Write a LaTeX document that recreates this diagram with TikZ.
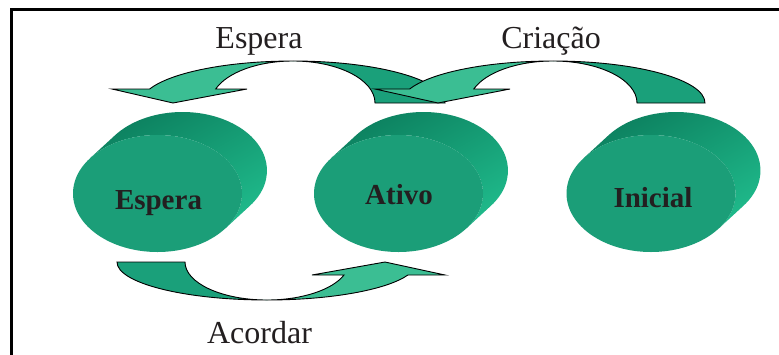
\documentclass[tikz,border=0pt]{standalone}
\usepackage{fontspec}
\setmainfont{Liberation Serif}
\definecolor{faceCol}{HTML}{1B9E78}
\definecolor{sideDark}{HTML}{0C7F5E}
\definecolor{sideLight}{HTML}{1FBA8B}
\definecolor{arrowLight}{HTML}{3BBE93}
\definecolor{arrowDark}{HTML}{1AA07A}
\definecolor{txt}{HTML}{231F20}
\tikzset{
  arrlight/.style={fill=arrowLight, draw=black, line width=0.9pt, line join=miter},
  arrdark/.style={fill=arrowDark, draw=black, line width=0.9pt, line join=miter},
  lbl/.style={font=\fontsize{32}{32}\selectfont, text=txt, anchor=base, inner sep=0pt},
  blbl/.style={font=\fontsize{29}{29}\selectfont\bfseries, text=txt, anchor=base, inner sep=0pt},
  frame/.style={draw=black, line width=2.4pt},
  disc/.pic={
    \shade[top color=sideDark, bottom color=sideLight, shading angle=30]
      (-67.5,-35.2) -- ++(25,-23)
      arc[start angle=217, end angle=397, x radius=84.5, y radius=58.5]
      -- ++(-25,23)
      arc[start angle=37, end angle=-143, x radius=84.5, y radius=58.5] -- cycle;
    \fill[faceCol] (0,0) ellipse[x radius=84.5, y radius=58.5];
  }
}
\begin{document}
\begin{tikzpicture}[x=1pt,y=-1pt]
\useasboundingbox (0,0) rectangle (779,354);
\fill[white] (0,0) rectangle (779,354);
% frame
\draw[frame] (11.5,356) -- (11.5,9.5) -- (781,9.5);

% discs
\pic at (157.5,193.5) {disc};
\pic at (398.5,193.5) {disc};
\pic at (651,193.5) {disc};
\node[blbl] (espera) at (158.5,209) {Espera};
\node[blbl] (ativo) at (399,204) {Ativo};
\node[blbl] (inicial) at (653,207) {Inicial};

% Espera arrow (Ativo -> Espera)
\coordinate (eTop) at (293,61);
\draw[arrdark] (eTop) arc[start angle=270, end angle=360, x radius=152, y radius=42]
  -- (375,103) arc[start angle=360, end angle=270, x radius=82, y radius=42] -- cycle;
\draw[arrlight] (149.7,89) arc[start angle=199.47, end angle=270, x radius=152, y radius=42]
  arc[start angle=270, end angle=199.47, x radius=82, y radius=42]
  -- (247,89) -- (173,103) -- (112,89) -- cycle;

% Criacao arrow (Inicial -> Ativo)
\coordinate (cTop) at (553,61);
\draw[arrdark] (cTop) arc[start angle=270, end angle=360, x radius=152, y radius=42]
  -- (637,103) arc[start angle=360, end angle=270, x radius=84, y radius=42] -- cycle;
\draw[arrlight] (409.7,89) arc[start angle=199.47, end angle=270, x radius=152, y radius=42]
  arc[start angle=270, end angle=199.47, x radius=84, y radius=42]
  -- (510,89) -- (438,103) -- (375,89) -- cycle;

% Acordar arrow (Espera -> Ativo)
\coordinate (aBot) at (267,300);
\draw[arrdark] (117,262) arc[start angle=180, end angle=90, x radius=150, y radius=38]
  arc[start angle=90, end angle=180, x radius=82, y radius=38] -- cycle;
\draw[arrlight] (aBot) arc[start angle=90, end angle=20, x radius=150, y radius=38]
  -- (445,275) -- (385,262) -- (312,275) -- (344,275)
  arc[start angle=20, end angle=90, x radius=82, y radius=38] -- cycle;

% labels
\node[lbl] (lEspera) at (259,48) {Espera};
\node[lbl] (lCriacao) at (551,48) {Criação};
\node[lbl] (lAcordar) at (259.5,343) {Acordar};
\end{tikzpicture}
\end{document}
